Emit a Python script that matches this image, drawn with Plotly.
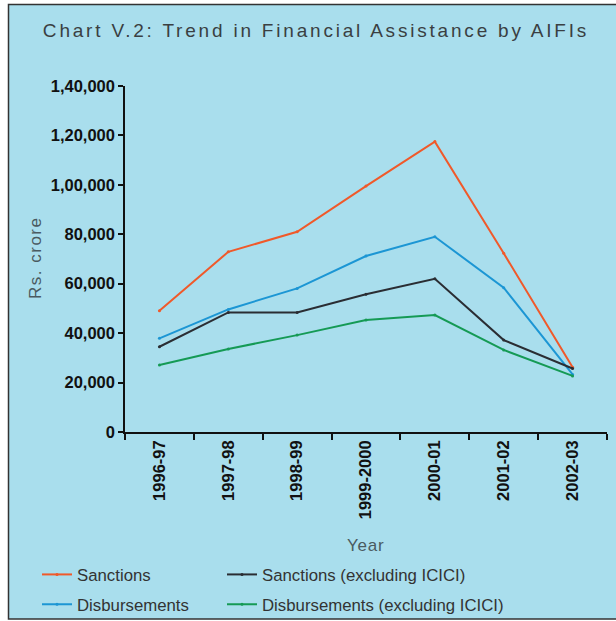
import plotly.graph_objects as go

# Financial assistance by AIFIs, Rs. crore
years = ["1996-97", "1997-98", "1998-99", "1999-2000", "2000-01", "2001-02", "2002-03"]
sanctions = [49100, 72900, 81000, 99500, 117500, 72300, 26200]
disbursements = [37900, 49600, 58100, 71200, 79000, 58400, 23300]
sanctions_ex_icici = [34500, 48400, 48400, 55700, 62000, 37200, 25700]
disbursements_ex_icici = [27100, 33600, 39200, 45300, 47300, 33200, 22700]

y_tickvals = [0, 20000, 40000, 60000, 80000, 100000, 120000, 140000]
y_ticktext = ["0", "20,000", "40,000", "60,000", "80,000", "1,00,000", "1,20,000", "1,40,000"]

BG = "#a9deed"
W, H = 616, 621
L, R, T, B = 125, 9, 86, 189
PW, PH = W - L - R, H - T - B


def px_x(p):
    return (p - L) / PW


def px_y(p):
    return (H - B - p) / PH


def spaced(text, px):
    return f"<span style='letter-spacing:{px}px'>{text}</span>"


series = [
    ("Sanctions", sanctions, "#f0592a", "legend", "a"),
    ("Disbursements", disbursements, "#1c96d4", "legend", "b"),
    ("Sanctions (excluding ICICI)", sanctions_ex_icici, "#2a2d33", "legend2", "c"),
    ("Disbursements (excluding ICICI)", disbursements_ex_icici, "#159a55", "legend2", "d"),
]

fig = go.Figure()
for name, vals, color, leg, grp in series:
    fig.add_trace(go.Scatter(
        x=years, y=vals, name=name, mode="lines+markers",
        line=dict(color=color, width=2),
        marker=dict(color=color, size=3),
        legend=leg, legendgroup=grp,
    ))

tick_font = dict(family="Liberation Sans", size=16.5, color="#111111", weight="bold")
label_color = "#4a5a60"
legend_font = dict(family="Liberation Sans", size=16.8, color="#333333")

fig.update_layout(
    width=W, height=H,
    margin=dict(l=L, r=R, t=T, b=B, autoexpand=False),
    paper_bgcolor="white",
    plot_bgcolor="rgba(0,0,0,0)",
    title=dict(
        text=spaced("Chart V.2: Trend in Financial Assistance by AIFIs", 2.8),
        x=316 / W, xanchor="center", y=1 - 30 / H, yanchor="middle",
        font=dict(family="Liberation Sans", size=19, color="#3a3f42"),
    ),
    xaxis=dict(
        type="category", range=[-0.5, 6.5], automargin=False,
        showline=True, linecolor="#111111", linewidth=1.5,
        ticks="outside", tickson="boundaries", ticklen=6, tickwidth=1.5, tickcolor="#111111",
        tickangle=-90, tickfont=tick_font, showgrid=False, zeroline=False,
    ),
    yaxis=dict(
        range=[0, 140000], tickvals=y_tickvals, ticktext=y_ticktext, automargin=False,
        showline=True, linecolor="#111111", linewidth=1.5,
        ticks="outside", ticklen=5, tickwidth=1.5, tickcolor="#111111",
        tickfont=tick_font, showgrid=False, zeroline=False,
    ),
    legend=dict(
        x=px_x(37), xanchor="left", y=px_y(557), yanchor="top",
        bgcolor="rgba(0,0,0,0)", tracegroupgap=5, font=legend_font,
    ),
    legend2=dict(
        x=px_x(222), xanchor="left", y=px_y(557), yanchor="top",
        bgcolor="rgba(0,0,0,0)", tracegroupgap=5, font=legend_font,
    ),
    shapes=[dict(
        type="rect", xref="paper", yref="paper", layer="below",
        x0=px_x(8.5), x1=px_x(618), y0=px_y(619), y1=px_y(4.5),
        line=dict(color="#333333", width=1.5), fillcolor=BG,
    )],
    annotations=[
        dict(text=spaced("Rs. crore", 1.5), xref="paper", yref="paper", x=px_x(35), y=px_y(258),
             textangle=-90, showarrow=False, xanchor="center", yanchor="middle",
             font=dict(family="Liberation Sans", size=17, color=label_color)),
        dict(text=spaced("Year", 0.8), xref="paper", yref="paper", x=px_x(366), y=px_y(545),
             showarrow=False, xanchor="center", yanchor="middle",
             font=dict(family="Liberation Sans", size=17, color=label_color)),
    ],
)

fig.write_html("out.html")
